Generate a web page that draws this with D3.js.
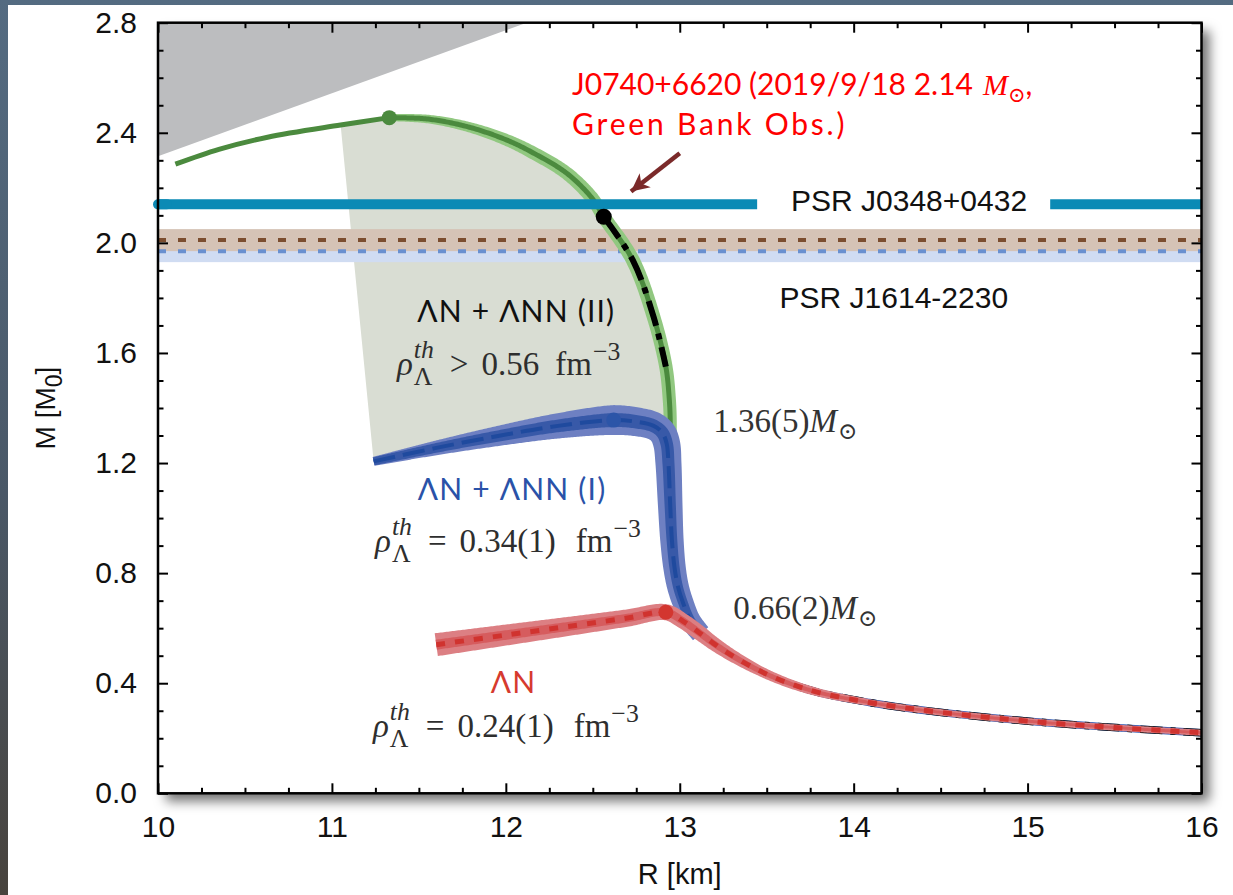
<!DOCTYPE html>
<html>
<head>
<meta charset="utf-8">
<script src="https://cdn.jsdelivr.net/npm/d3@7"></script>
<style>
  html, body { margin: 0; padding: 0; background: #fff; }
  svg { display: block; }
</style>
</head>
<body>
<svg id="chart" width="1233" height="895"></svg>
<script>
// ---------------------------------------------------------------
// Neutron-star mass–radius relations (R in km, M in solar masses)
// ---------------------------------------------------------------
const xTickValues = [10, 11, 12, 13, 14, 15, 16];
const yTickValues = [0.0, 0.4, 0.8, 1.2, 1.6, 2.0, 2.4, 2.8];

// ΛN + ΛNN (II)
const greenR = [10.10, 10.35, 10.63, 11.05, 11.33, 11.55, 11.78, 12.00, 12.16, 12.35, 12.495, 12.563, 12.73, 12.85, 12.92, 12.94, 12.945, 12.945];
const greenM = [2.286, 2.340, 2.384, 2.428, 2.455, 2.450, 2.422, 2.375, 2.326, 2.253, 2.163, 2.095, 1.937, 1.730, 1.550, 1.430, 1.360, 1.300];

// ΛN + ΛNN (I)
const blueR = [11.24, 11.60, 11.97, 12.30, 12.62, 12.75, 12.85, 12.90, 12.925, 12.935, 12.945, 12.955, 12.97, 12.99, 13.02, 13.06, 13.12];
const blueM = [1.206, 1.255, 1.300, 1.335, 1.356, 1.350, 1.335, 1.310, 1.270, 1.200, 1.050, 0.920, 0.820, 0.750, 0.690, 0.630, 0.580];

// ΛN
const redR = [11.60, 12.00, 12.40, 12.70, 12.92, 13.02, 13.12, 13.20, 13.31, 13.46, 13.61, 13.80, 14.09, 14.30, 14.60, 15.06, 15.55, 16.00];
const redM = [0.540, 0.575, 0.610, 0.637, 0.658, 0.625, 0.580, 0.542, 0.497, 0.445, 0.404, 0.366, 0.330, 0.310, 0.287, 0.259, 0.237, 0.220];

// stable branch of model (II) between these masses (dash-dot)
const stableBranchM = [1.44, 2.095];

// causality-excluded corner
const causalR = [10.0, 12.12];
const causalM = [2.315, 2.80];

// pulsar mass constraints
const psrNames = ["PSR J0348+0432", "PSR J1614-2230"];
const psrMass  = [2.01, 1.97];
const psrErr   = [0.04, 0.04];
const j0740Mass = 2.14;

// ---------------------------------------------------------------
const W = 1233, H = 895;
const plot = { left: 158, right: 1201.5, top: 22.7, bottom: 793.3 };

const svg = d3.select("#chart");
const defs = svg.append("defs");

const x = d3.scaleLinear().domain([10, 16]).range([plot.left, plot.right]);
const y = d3.scaleLinear().domain([0, 2.8]).range([plot.bottom, plot.top]);

const zip = (R, M) => R.map((r, i) => [r, M[i]]);
const curve = d3.line().x(d => x(d[0])).y(d => y(d[1])).curve(d3.curveCatmullRom.alpha(0.5));

// backdrop
const bg = defs.append("linearGradient").attr("id", "slate").attr("x1", 0).attr("y1", 0).attr("x2", 0).attr("y2", 1);
bg.append("stop").attr("offset", "0%").attr("stop-color", "#546b81");
bg.append("stop").attr("offset", "55%").attr("stop-color", "#4a5867");
bg.append("stop").attr("offset", "100%").attr("stop-color", "#48433d");
svg.append("rect").attr("width", W).attr("height", H).attr("fill", "url(#slate)");
svg.append("rect").attr("x", 8).attr("y", 5).attr("width", W - 8).attr("height", H - 5).attr("fill", "#fff");

// shadow behind the frame
const sh = defs.append("filter").attr("id", "shadow")
  .attr("x", "-5%").attr("y", "-5%").attr("width", "115%").attr("height", "115%");
sh.append("feDropShadow").attr("dx", 8).attr("dy", 8).attr("stdDeviation", 6)
  .attr("flood-color", "#000").attr("flood-opacity", 0.55);
svg.append("rect")
  .attr("x", plot.left).attr("y", plot.top)
  .attr("width", plot.right - plot.left).attr("height", plot.bottom - plot.top)
  .attr("fill", "#fff").attr("filter", "url(#shadow)");

defs.append("clipPath").attr("id", "clip").append("rect")
  .attr("x", plot.left).attr("y", plot.top)
  .attr("width", plot.right - plot.left).attr("height", plot.bottom - plot.top);

const g = svg.append("g").attr("clip-path", "url(#clip)");

// ---------------------------------------------------------------
// variable-width ribbon along a smooth curve
function ribbon(points, stops) {
  const lenAt = k => {
    if (k === 0) return 0;
    const p = g.append("path").attr("d", curve(points.slice(0, k + 1)));
    const L = p.node().getTotalLength();
    p.remove();
    return L;
  };
  const wScale = d3.scaleLinear().domain(stops.map(s => lenAt(s[0]))).range(stops.map(s => s[1])).clamp(true);
  const tmp = g.append("path").attr("d", curve(points));
  const node = tmp.node();
  const L = node.getTotalLength();
  const n = Math.max(2, Math.ceil(L / 1.5));
  const pts = d3.range(n + 1).map(i => { const p = node.getPointAtLength(L * i / n); return [p.x, p.y, L * i / n]; });
  tmp.remove();
  const left = [], right = [];
  pts.forEach((p, i) => {
    const a = pts[Math.max(0, i - 1)], b = pts[Math.min(n, i + 1)];
    let tx = b[0] - a[0], ty = b[1] - a[1];
    const len = Math.hypot(tx, ty) || 1;
    tx /= len; ty /= len;
    const w = wScale(p[2]) / 2;
    left.push([p[0] - ty * w, p[1] + tx * w]);
    right.push([p[0] + ty * w, p[1] - tx * w]);
  });
  return "M" + left.map(p => p.join(",")).join("L") + "L" + right.reverse().map(p => p.join(",")).join("L") + "Z";
}

// ---------------------------------------------------------------
// causality-excluded region
g.append("path")
  .attr("d", d3.line()([
    [x(causalR[0]), y(causalM[1])],
    [x(causalR[0]), y(causalM[0])],
    [x(causalR[1]), y(causalM[1])]
  ]) + "Z")
  .attr("fill", "#bcbdbf");

// region spanned by model (II)
const greenPts = zip(greenR, greenM);
const bluePts = zip(blueR, blueM);
const redPts = zip(redR, redM);
const gMax = d3.maxIndex(greenM);
const bMax = d3.maxIndex(blueM);
const rMax = d3.maxIndex(redM);

const regionTop = greenPts.filter(d => d[0] >= 11.05);
const regionBottom = bluePts.slice(0, 9).reverse();
g.append("path")
  .attr("d", curve(regionTop) + curve(regionBottom).replace(/^M/, "L") + "Z")
  .attr("fill", "#d9ddd3");

// pulsar bands: J1614 below, J0348 above it
[1, 0].forEach(i => {
  g.append("rect")
    .attr("x", plot.left).attr("width", plot.right - plot.left)
    .attr("y", y(psrMass[i] + psrErr[i]))
    .attr("height", y(psrMass[i] - psrErr[i]) - y(psrMass[i] + psrErr[i]))
    .attr("fill", i === 0 ? "#d5c3b6" : "#d0dcf2");
});
[1, 0].forEach(i => {
  g.append("line")
    .attr("x1", plot.left).attr("x2", plot.right)
    .attr("y1", y(psrMass[i])).attr("y2", y(psrMass[i]))
    .attr("stroke", i === 0 ? "#7b4d2f" : "#6a90cf")
    .attr("stroke-width", 4).attr("stroke-dasharray", "8 12");
});

// ΛN + ΛNN (II)
const greenThin = greenPts.slice(0, gMax + 1);
const greenBand = greenPts.slice(gMax);
g.append("path").attr("d", curve(greenThin)).attr("fill", "none")
  .attr("stroke", "#4b8a3e").attr("stroke-width", 5);
g.append("path").attr("d", ribbon(greenBand, [[0, 7], [4, 13], [8, 14], [13, 13]])).attr("fill", "#91c880");
g.append("path").attr("d", ribbon(greenBand, [[0, 5], [13, 5]])).attr("fill", "#4b8a3e");
const stable = greenBand.filter(d => d[1] >= stableBranchM[0] && d[1] <= stableBranchM[1]);
g.append("path").attr("d", curve(stable)).attr("fill", "none")
  .attr("stroke", "#000").attr("stroke-width", 6).attr("stroke-dasharray", "26 8 6 8");

// ΛN + ΛNN (I)
g.append("path").attr("d", ribbon(bluePts, [[0, 9], [4, 30], [9, 26], [16, 20]])).attr("fill", "#6e80c2");
g.append("path").attr("d", ribbon(bluePts, [[0, 8], [4, 14], [9, 12], [16, 9]])).attr("fill", "#3859a8");
g.append("path").attr("d", curve(bluePts)).attr("fill", "none")
  .attr("stroke", "#1f4a9e").attr("stroke-width", 4).attr("stroke-dasharray", "22 8");

// shared low-mass tail lines under the ΛN band
const tail = redPts.filter(d => d[0] >= 13.46);
g.append("path").attr("d", curve(tail)).attr("fill", "none").attr("stroke", "#2a55b0").attr("stroke-width", 7.5);
g.append("path").attr("d", curve(tail)).attr("fill", "none").attr("stroke", "#111")
  .attr("stroke-width", 7.5).attr("stroke-dasharray", "22 8 5 8");

// ΛN
g.append("path").attr("d", ribbon(redPts, [[0, 23], [4, 16], [6, 15], [9, 10], [12, 6.5], [17, 6]])).attr("fill", "#dc7f83");
g.append("path").attr("d", ribbon(redPts, [[0, 10], [4, 8], [9, 5], [12, 3], [17, 3]])).attr("fill", "#d65c5e");
g.append("path").attr("d", curve(redPts)).attr("fill", "none")
  .attr("stroke", "#d0332f").attr("stroke-width", 5).attr("stroke-dasharray", "9 10");

// PSR J0740+6620 line, broken by its neighbour's label
g.append("line")
  .attr("x1", x(10)).attr("x2", x(16))
  .attr("y1", y(j0740Mass)).attr("y2", y(j0740Mass))
  .attr("stroke", "#0b8ab5").attr("stroke-width", 10).attr("stroke-linecap", "round");
svg.append("line")
  .attr("x1", x(10)).attr("x2", x(10.05))
  .attr("y1", y(j0740Mass)).attr("y2", y(j0740Mass))
  .attr("stroke", "#0b8ab5").attr("stroke-width", 10).attr("stroke-linecap", "round");
svg.append("rect")
  .attr("x", x(13.445)).attr("width", x(15.13) - x(13.445))
  .attr("y", y(j0740Mass) - 9).attr("height", 18).attr("fill", "#fff");

// markers
const dots = svg.append("g");
dots.append("circle").attr("cx", x(greenR[gMax])).attr("cy", y(greenM[gMax])).attr("r", 7.5).attr("fill", "#4b8a3e");
dots.append("circle").attr("cx", x(stable[0][0])).attr("cy", y(stable[0][1])).attr("r", 8).attr("fill", "#000");
dots.append("circle").attr("cx", x(blueR[bMax])).attr("cy", y(blueM[bMax])).attr("r", 7.5).attr("fill", "#2c55a8");
dots.append("circle").attr("cx", x(redR[rMax])).attr("cy", y(redM[rMax])).attr("r", 7.5).attr("fill", "#d3362f");

// ---------------------------------------------------------------
// axes: ticks point inwards on all four sides
const minorX = d3.range(10, 16.001, 0.25).filter(v => Math.abs(v - Math.round(v)) > 1e-6);
const minorY = d3.range(0, 2.801, 0.1).filter(v => Math.abs(v / 0.4 - Math.round(v / 0.4)) > 1e-6);
const fmtY = d3.format(".1f");

function styleAxis(sel) {
  sel.select(".domain").remove();
  sel.selectAll("line").attr("stroke", "#000").attr("stroke-width", 2);
  sel.selectAll("text").attr("font-family", "'Liberation Sans', Arial, sans-serif")
    .attr("font-size", 30).attr("fill", "#111");
}
svg.append("g").attr("transform", `translate(0,${plot.bottom})`)
  .call(d3.axisBottom(x).tickValues(xTickValues).tickSize(-10).tickSizeOuter(0).tickPadding(22).tickFormat(d3.format("d")))
  .call(styleAxis);
svg.append("g").attr("transform", `translate(0,${plot.bottom})`)
  .call(d3.axisBottom(x).tickValues(minorX).tickSize(-5.5).tickSizeOuter(0).tickFormat(""))
  .call(styleAxis);
svg.append("g").attr("transform", `translate(0,${plot.top})`)
  .call(d3.axisTop(x).tickValues(xTickValues).tickSize(-10).tickSizeOuter(0).tickFormat(""))
  .call(styleAxis);
svg.append("g").attr("transform", `translate(0,${plot.top})`)
  .call(d3.axisTop(x).tickValues(minorX).tickSize(-5.5).tickSizeOuter(0).tickFormat(""))
  .call(styleAxis);
svg.append("g").attr("transform", `translate(${plot.left},0)`)
  .call(d3.axisLeft(y).tickValues(yTickValues).tickSize(-10).tickSizeOuter(0).tickPadding(21).tickFormat(fmtY))
  .call(styleAxis);
svg.append("g").attr("transform", `translate(${plot.left},0)`)
  .call(d3.axisLeft(y).tickValues(minorY).tickSize(-5.5).tickSizeOuter(0).tickFormat(""))
  .call(styleAxis);
svg.append("g").attr("transform", `translate(${plot.right},0)`)
  .call(d3.axisRight(y).tickValues(yTickValues).tickSize(-10).tickSizeOuter(0).tickFormat(""))
  .call(styleAxis);
svg.append("g").attr("transform", `translate(${plot.right},0)`)
  .call(d3.axisRight(y).tickValues(minorY).tickSize(-5.5).tickSizeOuter(0).tickFormat(""))
  .call(styleAxis);

svg.append("rect")
  .attr("x", plot.left).attr("y", plot.top)
  .attr("width", plot.right - plot.left).attr("height", plot.bottom - plot.top)
  .attr("fill", "none").attr("stroke", "#000").attr("stroke-width", 2.5);

// axis titles
svg.append("text")
  .attr("x", (plot.left + plot.right) / 2).attr("y", 884)
  .attr("text-anchor", "middle")
  .attr("font-family", "'Liberation Sans', Arial, sans-serif").attr("font-size", 29).attr("fill", "#111")
  .text("R [km]");
const yt = svg.append("text")
  .attr("transform", `translate(55,${(plot.top + plot.bottom) / 2}) rotate(-90)`)
  .attr("text-anchor", "middle")
  .attr("font-family", "'Liberation Sans', Arial, sans-serif").attr("font-size", 28).attr("fill", "#111");
yt.append("tspan").text("M [M");
yt.append("tspan").attr("font-size", 23).attr("dy", 7).text("0");
yt.append("tspan").attr("dy", -7).text("]");

// ---------------------------------------------------------------
// annotation helper: runs of text with sub/superscripts
const SANS = "Lato, 'Noto Sans', sans-serif";
const SERIF = "'Liberation Serif', 'DejaVu Serif', serif";
function richText(px, py, parts, opt) {
  const o = Object.assign({ size: 32, fam: SERIF, color: "#2e2e2e", anchor: "start", spacing: 0, script: 0.7 }, opt || {});
  const grp = svg.append("g").attr("fill", o.color);
  let cx = 0;
  const put = (txt, fs, it, dy, fam, sp) => {
    const t = grp.append("text").attr("x", cx).attr("y", dy)
      .attr("font-size", fs).attr("font-family", fam || o.fam)
      .attr("letter-spacing", sp !== undefined ? sp : o.spacing)
      .attr("font-style", it ? "italic" : "normal").text(txt);
    return t.node().getComputedTextLength();
  };
  const ss = o.script * o.size;
  parts.forEach(p => {
    if (p.gap !== undefined) { cx += p.gap; return; }
    const fs = (p.scale || 1) * o.size;
    if (p.sup !== undefined && p.sub !== undefined) {
      const w1 = put(p.sup, ss, p.supIt, -17, p.fam);
      const w2 = put(p.sub, ss, false, 10, p.fam);
      cx += Math.max(w1, w2);
      return;
    }
    if (p.sup !== undefined) { cx += put(p.sup, ss, p.it, -15, p.fam); return; }
    if (p.sub !== undefined) { cx += put(p.sub, ss, p.it, 7, p.fam); return; }
    cx += put(p.t, fs, p.it, 0, p.fam, p.sp);
  });
  const shift = o.anchor === "middle" ? -cx / 2 : o.anchor === "end" ? -cx : 0;
  grp.attr("transform", `translate(${px + shift},${py})`);
  return grp;
}
const rho = [{ t: "ρ", it: true }, { gap: 1 }, { sup: "th", supIt: true, sub: "Λ" }];
const mathOpt = { size: 33, script: 0.78 };
const sansOpt = (color) => ({ fam: SANS, size: 30, color: color, anchor: "middle", spacing: 1.2 });

// model labels
richText(x(12.06), y(1.712), [{ t: "ΛN + ΛNN (II)" }], sansOpt("#111"));
richText(x(11.374), y(1.520), rho.concat([{ gap: 16 }, { t: ">" }, { gap: 13 }, { t: "0.56" }, { gap: 16 }, { t: "fm" }, { gap: 1 }, { sup: "−3" }]), mathOpt);
richText(x(12.036), y(1.066), [{ t: "ΛN + ΛNN (I)" }], sansOpt("#2a52a8"));
richText(x(11.248), y(0.877), rho.concat([{ gap: 16 }, { t: "=" }, { gap: 13 }, { t: "0.34(1)" }, { gap: 20 }, { t: "fm" }, { gap: 1 }, { sup: "−3" }]), mathOpt);
richText(x(12.044), y(0.365), [{ t: "ΛN" }], sansOpt("#d63a2e"));
richText(x(11.236), y(0.205), rho.concat([{ gap: 16 }, { t: "=" }, { gap: 13 }, { t: "0.24(1)" }, { gap: 20 }, { t: "fm" }, { gap: 1 }, { sup: "−3" }]), mathOpt);

// threshold masses
richText(x(13.192), y(1.313), [{ t: "1.36(5)" }, { t: "M", it: true }, { gap: 1 }, { sub: "⊙" }], { size: 33, color: "#333" });
richText(x(13.307), y(0.633), [{ t: "0.66(2)" }, { t: "M", it: true }, { gap: 1 }, { sub: "⊙" }], { size: 33, color: "#333" });

// pulsar labels
richText(x(14.997), y(2.115), [{ t: psrNames[0] }], { fam: "'Liberation Sans', Arial, sans-serif", size: 30, color: "#111", anchor: "end" });
richText(x(14.888), y(1.763), [{ t: psrNames[1] }], { fam: "'Liberation Sans', Arial, sans-serif", size: 30, color: "#111", anchor: "end" });

// J0740+6620 note with arrow
richText(x(12.381), y(2.537), [
  { t: "J0740+6620 (2019/9/18 " + j0740Mass.toFixed(2), fam: SANS }, { gap: 10 },
  { t: "M", it: true, fam: SERIF }, { sub: "⊙", fam: SERIF }, { t: ",", fam: SANS }
], { size: 30, color: "#ff0000", spacing: 0 });
richText(x(12.381), y(2.392), [{ t: "Green Bank Obs.)", fam: SANS }], { size: 30, color: "#ff0000", spacing: 2.8 });

defs.append("marker").attr("id", "head")
  .attr("viewBox", "-20 -12 24 24").attr("markerWidth", 24).attr("markerHeight", 24)
  .attr("markerUnits", "userSpaceOnUse").attr("orient", "auto").attr("refX", 0).attr("refY", 0)
  .append("path").attr("d", "M-18,-9 L0,0 L-18,9 L-13,0 Z").attr("fill", "#7b2a2a");
svg.append("line")
  .attr("x1", x(13.0)).attr("y1", y(2.326))
  .attr("x2", x(12.72)).attr("y2", y(2.187))
  .attr("stroke", "#7b2a2a").attr("stroke-width", 4.5).attr("marker-end", "url(#head)");
</script>
</body>
</html>
